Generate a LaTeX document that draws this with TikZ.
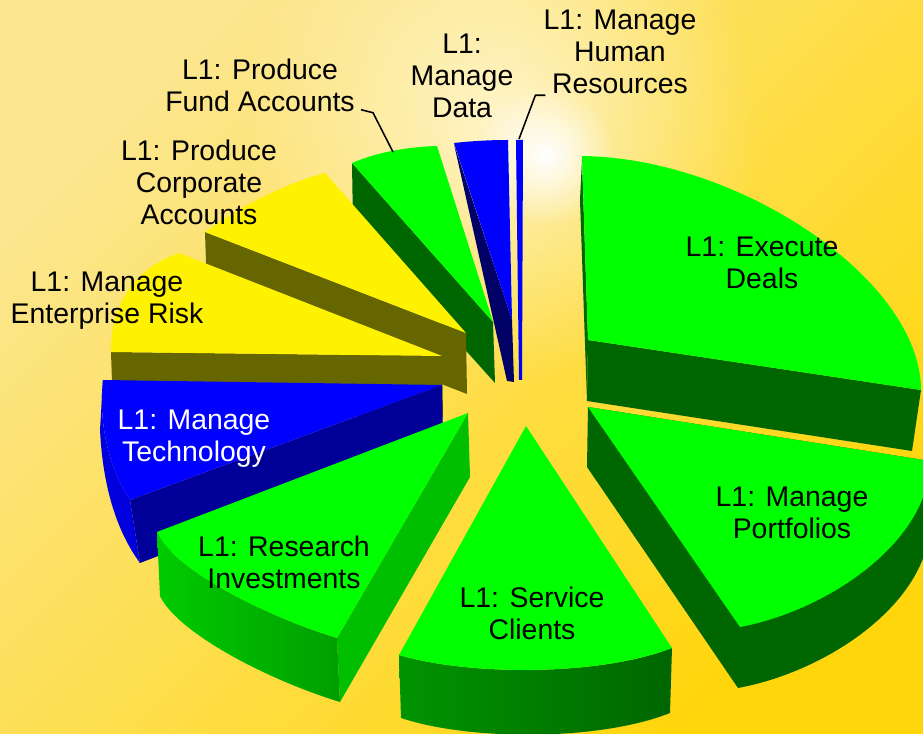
\documentclass[tikz,border=0pt]{standalone}
\usepackage{fontspec}
\setmainfont{Liberation Sans}
\usetikzlibrary{positioning,fadings,shadings}
\definecolor{riskolive}{HTML}{666600}
\definecolor{deepblue}{HTML}{000066}
\definecolor{sideblue}{HTML}{000099}
\definecolor{bgpale}{HTML}{FCE68E}
\definecolor{bgmid}{HTML}{FFE03A}
\definecolor{bggold}{HTML}{FFD60C}
\tikzfading[name=glowfade, inner color=transparent!0, outer color=transparent!100]

\begin{document}
\begin{tikzpicture}[%
        x=0.025cm, y=-0.025cm,
        every node/.style={font=\fontsize{20.2}{22.8}\selectfont, align=center, inner sep=0pt},
        top/.style={fill=green},
        band/.style={fill=green!40!black},
        leader/.style={draw=black, line width=1.1pt}
      ]
      \useasboundingbox (0,0) rectangle (923,734);
      \clip (0,0) rectangle (923,734);
      % background and sun
      \shade[top color=bgpale, middle color=bgmid, bottom color=bggold, shading angle=45] (0,0) rectangle (923,734);
      \fill[white, opacity=0.65, path fading=glowfade] (500,120) circle (260);
      \fill[white, path fading=glowfade] (545,155) circle (70);

      % L1: Manage Human Resources
      \fill[blue] (516,140) -- (523,140) -- (522,380) -- (519,380) -- cycle;
      % L1: Manage Data
      \fill[deepblue] (454,144) -- (512,320) -- (514,382) -- (507,381) -- cycle;
      \fill[blue] (454,143) .. controls (472,141) and (490,140) .. (508,140) -- (512,320) -- cycle;
      % L1: Produce Fund Accounts
      \fill[band] (352,163) -- (493,322) -- (495,383) -- (353,225) -- cycle;
      \fill[top] (352,163) .. controls (375,153) and (405,147) .. (437,146) -- (493,322) -- cycle;
      % L1: Produce Corporate Accounts
      \fill[riskolive] (205,232) -- (466,333) -- (467,394) -- (207,293) -- cycle;
      \fill[yellow] (205,232) .. controls (235,210) and (280,185) .. (325,173) -- (466,333) -- cycle;
      % L1: Manage Enterprise Risk
      \fill[riskolive] (111,352) -- (442,356) -- (443,417) -- (113,413) -- cycle;
      \fill[yellow] (179,253) .. controls (135,268) and (110,305) .. (111,352) -- (442,356) -- cycle;
      % L1: Manage Technology
      \fill[blue!87!black] (103,380) .. controls (98,425) and (110,470) .. (130,500) -- (140,563)
           .. controls (118,533) and (103,490) .. (100,430) -- cycle;
      \fill[sideblue] (442,385) -- (130,500) -- (140,563) -- (443,446) -- cycle;
      \fill[blue] (103,380) -- (442,385) -- (130,500) .. controls (110,470) and (98,425) .. (103,380) -- cycle;
      % L1: Execute Deals
      \fill[band] (582,160) -- (588,340) -- (587,401) -- (580,200) -- cycle;
      \fill[band] (588,340) -- (921,390) -- (912,451) -- (587,401) -- cycle;
      \fill[top] (588,340) -- (582,156) .. controls (740,158) and (921,280) .. (921,390) -- cycle;
      % L1: Manage Portfolios
      \fill[band] (588,407) -- (587,467) -- (738,688) .. controls (830,671) and (930,601) .. (930,522) -- (930,461) -- cycle;
      \fill[top] (588,407) -- (930,461) .. controls (930,540) and (830,610) .. (740,627) -- cycle;
      % L1: Research Investments
      \fill[green!75!black] (468,413) -- (337,638) -- (340,702) -- (470,477) -- cycle;
      \shade[left color=green!80!black, right color=green!62!black] (157,532) .. controls (172,568) and (262,615) .. (337,638)
           -- (340,702) .. controls (265,679) and (177,632) .. (160,596) -- cycle;
      \fill[top] (468,413) -- (157,532) .. controls (172,568) and (262,615) .. (337,638) -- cycle;
      % L1: Service Clients
      \shade[left color=green!58!black, right color=green!40!black] (399,655) .. controls (470,676) and (600,676) .. (672,648)
           -- (670,713) .. controls (600,741) and (470,741) .. (401,718) -- cycle;
      \fill[top] (526,426) -- (399,655) .. controls (470,676) and (600,676) .. (672,648) -- cycle;

      % labels
      \node (deals) at (762,263) {L1: Execute\\Deals};
      \node (portf) at (792,513) {L1: Manage\\Portfolios};
      \node (service) at (532,613) {L1: Service\\Clients};
      \node (research) at (284,562) {L1: Research\\Investments};
      \node[text=white] (tech) at (194,439) {L1: Manage\\Technology};
      \node (risk) at (107,301) {L1: Manage\\Enterprise Risk};
      \node (corp) at (199,182) {L1: Produce\\Corporate\\Accounts};
      \node (fund) at (260,85) {L1: Produce\\Fund Accounts};
      \node (data) at (462,76) {L1:\\Manage\\Data};
      \node (hr) at (620,52) {L1: Manage\\Human\\Resources};

      % leader lines
      \coordinate (fundtip) at (393,152);
      \coordinate (hrtip) at (519,139);
      \draw[leader] ([shift={(6,-2)}]fund.south east) -- ++(12,3) -- (fundtip);
      \draw[leader] ([shift={(2,1)}]hr.south west) -- ++(-10,0) -- (hrtip);
\end{tikzpicture}
\end{document}
